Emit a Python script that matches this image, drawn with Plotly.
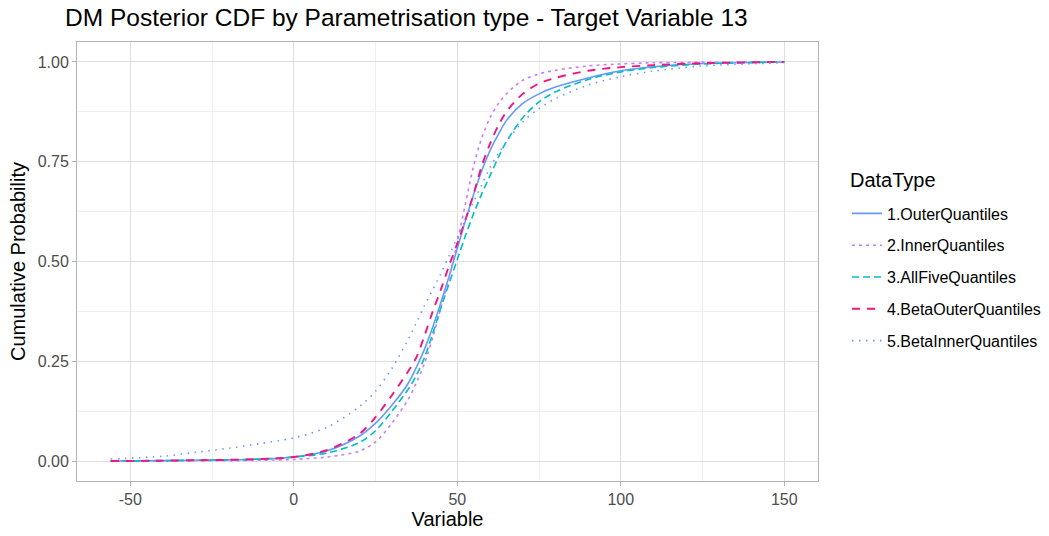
import plotly.graph_objects as go

x_vals = [-56, -40, -30, -20, -10, 0, 10, 20, 25, 30, 35, 37.5, 40, 42.5, 45, 47.5, 50, 52.5, 55, 57.5,
          60, 62.5, 65, 70, 75, 80, 90, 100, 110, 125, 150]

outer_q    = [0.0, 0.001, 0.002, 0.003, 0.005, 0.010, 0.025, 0.062, 0.095, 0.140, 0.195, 0.235, 0.281, 0.336, 0.398, 0.463,
              0.533, 0.603, 0.668, 0.728, 0.778, 0.818, 0.853, 0.896, 0.920, 0.937, 0.960, 0.978, 0.988, 0.996, 1.0]
inner_q    = [0.0, 0.0, 0.001, 0.001, 0.002, 0.004, 0.010, 0.025, 0.048, 0.095, 0.155, 0.197, 0.245, 0.310, 0.385, 0.460,
              0.550, 0.645, 0.740, 0.810, 0.860, 0.895, 0.920, 0.954, 0.970, 0.979, 0.990, 0.995, 0.998, 0.999, 1.0]
allfive_q  = [0.0, 0.001, 0.002, 0.003, 0.005, 0.010, 0.020, 0.046, 0.076, 0.125, 0.180, 0.215, 0.260, 0.320, 0.385, 0.445,
              0.505, 0.565, 0.620, 0.670, 0.715, 0.760, 0.800, 0.860, 0.900, 0.925, 0.956, 0.975, 0.986, 0.995, 1.0]
beta_outer = [0.0, 0.001, 0.002, 0.003, 0.005, 0.010, 0.027, 0.068, 0.110, 0.165, 0.225, 0.260, 0.315, 0.375, 0.430, 0.490,
              0.545, 0.605, 0.670, 0.740, 0.795, 0.840, 0.875, 0.920, 0.946, 0.960, 0.978, 0.987, 0.992, 0.997, 1.0]
beta_inner = [0.005, 0.012, 0.022, 0.032, 0.044, 0.058, 0.084, 0.136, 0.175, 0.232, 0.305, 0.347, 0.390, 0.430, 0.470, 0.515,
              0.560, 0.605, 0.650, 0.693, 0.735, 0.770, 0.800, 0.850, 0.883, 0.908, 0.942, 0.963, 0.977, 0.990, 0.998]

names = ["1.OuterQuantiles", "2.InnerQuantiles", "3.AllFiveQuantiles", "4.BetaOuterQuantiles", "5.BetaInnerQuantiles"]
series = [outer_q, inner_q, allfive_q, beta_outer, beta_inner]
colors = ["#6699FF", "#C77CFF", "#00BFC4", "#F0157F", "#6699FF"]
dashes = ["solid", "3px,4px", "7px,4px", "8px,7px", "1.5px,5.5px"]
widths = [1.6, 1.6, 1.6, 1.9, 1.6]

x_ticks = [-50, 0, 50, 100, 150]
y_ticks = [0.0, 0.25, 0.5, 0.75, 1.0]
y_labels = ["0.00", "0.25", "0.50", "0.75", "1.00"]

FONT = "Liberation Sans, Arial, sans-serif"
W, H = 1049, 536
L, R, T, B = 77, 231, 42, 55

fig = go.Figure()
for nm, ys, c, d, w in zip(names, series, colors, dashes, widths):
    fig.add_trace(go.Scatter(x=x_vals, y=ys, mode="lines", name=nm, legendgroup=nm,
                             line=dict(color=c, dash=d, width=w, shape="spline", smoothing=0.9)))

axis_common = dict(showline=True, linecolor="#B3B3B3", linewidth=1, mirror=True,
                   gridcolor="#DEDEDE", gridwidth=1, zeroline=False, automargin=False,
                   ticks="outside", ticklen=4, tickcolor="#B3B3B3",
                   tickfont=dict(family=FONT, size=16, color="#4D4D4D"))

pw = W - L - R
ph = H - T - B

fig.update_layout(
    width=W, height=H,
    paper_bgcolor="white", plot_bgcolor="white",
    margin=dict(l=L, r=R, t=T, b=B),
    title=dict(text="DM Posterior CDF by Parametrisation type - Target Variable 13",
               x=65/W, xanchor="left", y=1 - 17/H, yanchor="middle",
               font=dict(family=FONT, size=24.5, color="black")),
    xaxis=dict(range=[-66.3, 160.3], tickvals=x_ticks, ticktext=[str(v) for v in x_ticks],
               title=dict(text="Variable", font=dict(family=FONT, size=20, color="black"), standoff=4),
               minor=dict(tickvals=[-25, 25, 75, 125], showgrid=True, gridcolor="#EFEFEF", gridwidth=0.6),
               **axis_common),
    yaxis=dict(range=[-0.05, 1.05], tickvals=y_ticks, ticktext=y_labels,
               title=dict(text="Cumulative Probability", font=dict(family=FONT, size=20, color="black"), standoff=6),
               minor=dict(tickvals=[0.125, 0.375, 0.625, 0.875], showgrid=True, gridcolor="#EFEFEF", gridwidth=0.6),
               **axis_common),
    legend=dict(xref="container", yref="container", x=847/W, xanchor="left",
                y=1 - 277/H, yanchor="middle",
                font=dict(family=FONT, size=16, color="black"),
                tracegroupgap=8, itemwidth=30, bgcolor="rgba(0,0,0,0)"),
    annotations=[dict(text="DataType", xref="paper", yref="paper",
                      x=(848 - L)/pw, y=(H - B - 180)/ph, xanchor="left", yanchor="middle",
                      showarrow=False, font=dict(family=FONT, size=20, color="black"))],
)

fig.write_html("out.html")
